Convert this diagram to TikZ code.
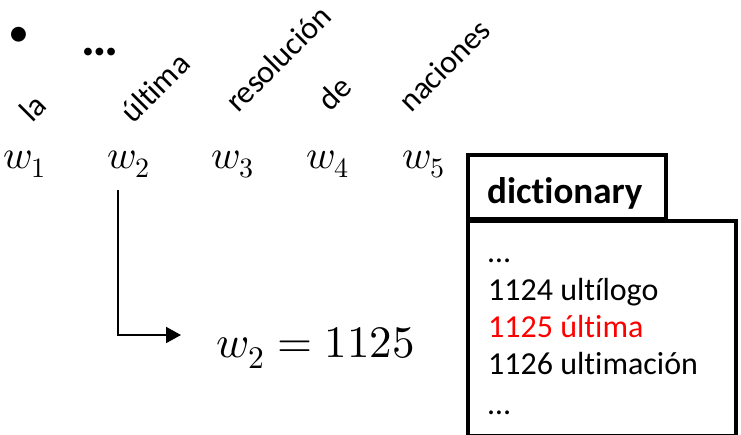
\documentclass[tikz,border=0pt]{standalone}
\usepackage{fontspec}
\usepackage{unicode-math}
\setmainfont{Carlito}[Ligatures=NoCommon]
\setmathfont{Latin Modern Math}
\usetikzlibrary{arrows.meta}
\tikzset{
  word/.style={rotate=45, anchor=base west, inner sep=0pt, font=\fontsize{32}{36}\selectfont},
  wvar/.style={anchor=base west, inner sep=0pt, font=\fontsize{40}{46}\selectfont},
  dict/.style={anchor=base west, inner sep=0pt, font=\fontsize{32}{38}\selectfont},
  boxline/.style={line width=4pt},
}
\begin{document}
\begin{tikzpicture}[x=1pt,y=-1pt]
\useasboundingbox (0,0) rectangle (741,434);
% bullet and ellipsis
\node[inner sep=0pt, font=\fontsize{42}{48}\selectfont] (bul) at (18.5,36.5) {•};
\node[inner sep=0pt, font=\bfseries\fontsize{52}{56}\selectfont] (ell) at (100,52) {…};
% rotated words
\node[word] (t1) at (32,124) {la};
\node[word] (t2) at (133,125) {última};
\node[word] (t3) at (238,114) {resolución};
\node[word] (t4) at (330,113) {de};
\node[word] (t5) at (411,114) {naciones};
% w variables
\node[wvar] (w1) at (3,168) {$w_1$};
\node[wvar] (w2) at (107,168) {$w_2$};
\node[wvar] (w3) at (211,168) {$w_3$};
\node[wvar] (w4) at (306,168) {$w_4$};
\node[wvar] (w5) at (402,168) {$w_5$};
% dictionary
\coordinate (tabNW) at (468,155);
\coordinate (tabSE) at (666,219);
\coordinate (boxNW) at (468,221);
\coordinate (boxSE) at (736,436);
\draw[boxline] (tabNW) rectangle (tabSE);
\draw[boxline] (boxNW) rectangle (boxSE);
\node[anchor=base west, inner sep=0pt, font=\bfseries\fontsize{37}{40}\selectfont] (dt) at (487,203) {dictionary};
\node[dict] (d0) at (488,262) {…};
\node[dict] (d1) at (488,300) {1124 ultílogo};
\node[dict, text=red] (d2) at (488,337) {1125 última};
\node[dict] (d3) at (488,374) {1126 ultimación};
\node[dict] (d4) at (488,414) {…};
% result
\node[anchor=base west, inner sep=0pt, font=\fontsize{45}{50}\selectfont] (res) at (216,357) {$w_2 = 1125$};
% arrow
\coordinate (a0) at (118,190);
\coordinate (a1) at (118,335);
\coordinate (a2) at (181,335);
\draw[line width=2pt, -{Triangle[length=15pt,width=16pt]}] (a0) -- (a1) -- (a2);
\end{tikzpicture}
\end{document}
